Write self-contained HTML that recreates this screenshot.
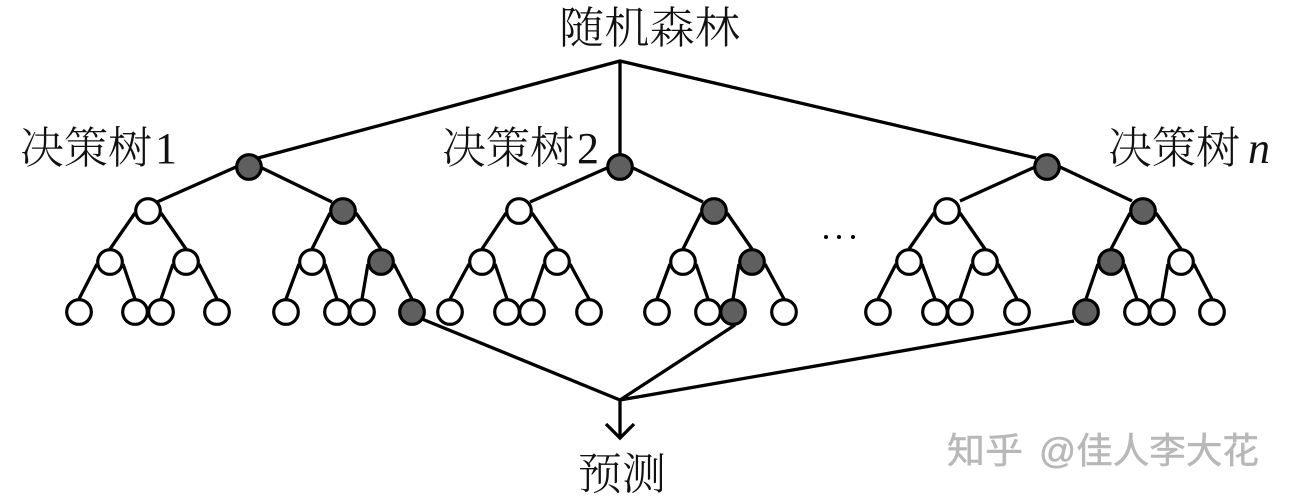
<!DOCTYPE html>
<html>
<head>
<meta charset="utf-8">
<style>
html,body{margin:0;padding:0;background:#fff;width:1291px;height:500px;overflow:hidden}
svg{display:block}
.t{font-family:"Liberation Serif","Noto Serif CJK SC",serif;font-size:44px;fill:#111;font-weight:300}
.w{font-family:"Liberation Sans","Noto Sans CJK SC",sans-serif;font-size:36px;fill:#b8b8b8;stroke:#b8b8b8;stroke-width:.5}
.l{stroke:#000;stroke-width:3.3;fill:none}
.o{fill:#fff;stroke:#000;stroke-width:3.2}
.d{fill:#5f5f5f;stroke:#000;stroke-width:3.2}
</style>
</head>
<body>
<svg width="1291" height="500" viewBox="0 0 1291 500" xmlns="http://www.w3.org/2000/svg">
<text class="t" x="559" y="43" textLength="181" lengthAdjust="spacingAndGlyphs">随机森林</text>
<text class="t" x="20" y="163">决策树</text><text class="t" x="155" y="163">1</text>
<text class="t" x="442" y="163">决策树</text><text class="t" x="577" y="163">2</text>
<text class="t" x="1108" y="163">决策树</text><text class="t" x="1248" y="163" style="font-style:italic">n</text>
<text class="t" x="578" y="489" textLength="88" lengthAdjust="spacingAndGlyphs">预测</text>
<text class="w" x="947" y="463" textLength="76" lengthAdjust="spacingAndGlyphs">知乎</text>
<text class="w" x="1039" y="463" textLength="220" lengthAdjust="spacingAndGlyphs">@佳人李大花</text>
<circle cx="826" cy="237" r="2" fill="#000"/><circle cx="839" cy="237" r="2" fill="#000"/><circle cx="853" cy="237" r="2" fill="#000"/>

<g class="l">
<path d="M258 158L620 61L1036 158M620 61V167"/>
<path d="M422 319L620 400L735 325M620 400L1074 321M620 400V438M606 424L620 438L634 424"/>
<!-- tree 1 -->
<path d="M236 167L157 202M262 168L332 202M135 213L110 249M161 213L186 249M330 213L312 249M356 213L381 249M97 264L79 299M123 264L135 299M173 264L161 299M199 264L217 299M299 264L286 299M325 264L337 299M368 264L362 299M394 264L412 299"/>
<!-- tree 2 -->
<path d="M607 168L530 202M633 168L703 202M506 213L482 249M532 213L557 249M701 213L683 249M727 213L752 249M469 264L450 299M495 264L507 299M544 264L532 299M570 264L589 299M670 264L657 299M696 264L708 299M739 264L733 299M765 264L784 299"/>
<!-- tree n -->
<path d="M1035 167L960 201M1060 167L1132 201M934 213L909 249M960 213L985 249M1130 213L1111 249M1156 213L1181 249M896 264L878 299M922 264L935 299M972 264L960 299M998 264L1017 299M1098 264L1086 299M1124 264L1137 299M1168 264L1162 299M1194 264L1212 299"/>
</g>

<!-- tree 1 nodes -->
<circle class="d" cx="249" cy="167" r="12.3"/>
<circle class="o" cx="148" cy="211" r="12.3"/><circle class="d" cx="343" cy="211" r="12.3"/>
<circle class="o" cx="110" cy="262" r="12.3"/><circle class="o" cx="186" cy="262" r="12.3"/><circle class="o" cx="312" cy="262" r="12.3"/><circle class="d" cx="381" cy="262" r="12.3"/>
<circle class="o" cx="79" cy="312" r="12.3"/><circle class="o" cx="135" cy="312" r="12.3"/><circle class="o" cx="161" cy="312" r="12.3"/><circle class="o" cx="217" cy="312" r="12.3"/><circle class="o" cx="286" cy="312" r="12.3"/><circle class="o" cx="337" cy="312" r="12.3"/><circle class="o" cx="362" cy="312" r="12.3"/><circle class="d" cx="412" cy="312" r="12.3"/>
<!-- tree 2 nodes -->
<circle class="d" cx="620" cy="167" r="12.3"/>
<circle class="o" cx="519" cy="211" r="12.3"/><circle class="d" cx="714" cy="211" r="12.3"/>
<circle class="o" cx="482" cy="262" r="12.3"/><circle class="o" cx="557" cy="262" r="12.3"/><circle class="o" cx="683" cy="262" r="12.3"/><circle class="d" cx="752" cy="262" r="12.3"/>
<circle class="o" cx="450" cy="312" r="12.3"/><circle class="o" cx="507" cy="312" r="12.3"/><circle class="o" cx="532" cy="312" r="12.3"/><circle class="o" cx="589" cy="312" r="12.3"/><circle class="o" cx="657" cy="312" r="12.3"/><circle class="o" cx="708" cy="312" r="12.3"/><circle class="d" cx="733" cy="312" r="12.3"/><circle class="o" cx="784" cy="312" r="12.3"/>
<!-- tree n nodes -->
<circle class="d" cx="1047" cy="167" r="12.3"/>
<circle class="o" cx="947" cy="211" r="12.3"/><circle class="d" cx="1143" cy="211" r="12.3"/>
<circle class="o" cx="909" cy="262" r="12.3"/><circle class="o" cx="985" cy="262" r="12.3"/><circle class="d" cx="1111" cy="262" r="12.3"/><circle class="o" cx="1181" cy="262" r="12.3"/>
<circle class="o" cx="878" cy="312" r="12.3"/><circle class="o" cx="935" cy="312" r="12.3"/><circle class="o" cx="960" cy="312" r="12.3"/><circle class="o" cx="1017" cy="312" r="12.3"/><circle class="d" cx="1086" cy="312" r="12.3"/><circle class="o" cx="1137" cy="312" r="12.3"/><circle class="o" cx="1162" cy="312" r="12.3"/><circle class="o" cx="1212" cy="312" r="12.3"/>
</svg>
</body>
</html>
